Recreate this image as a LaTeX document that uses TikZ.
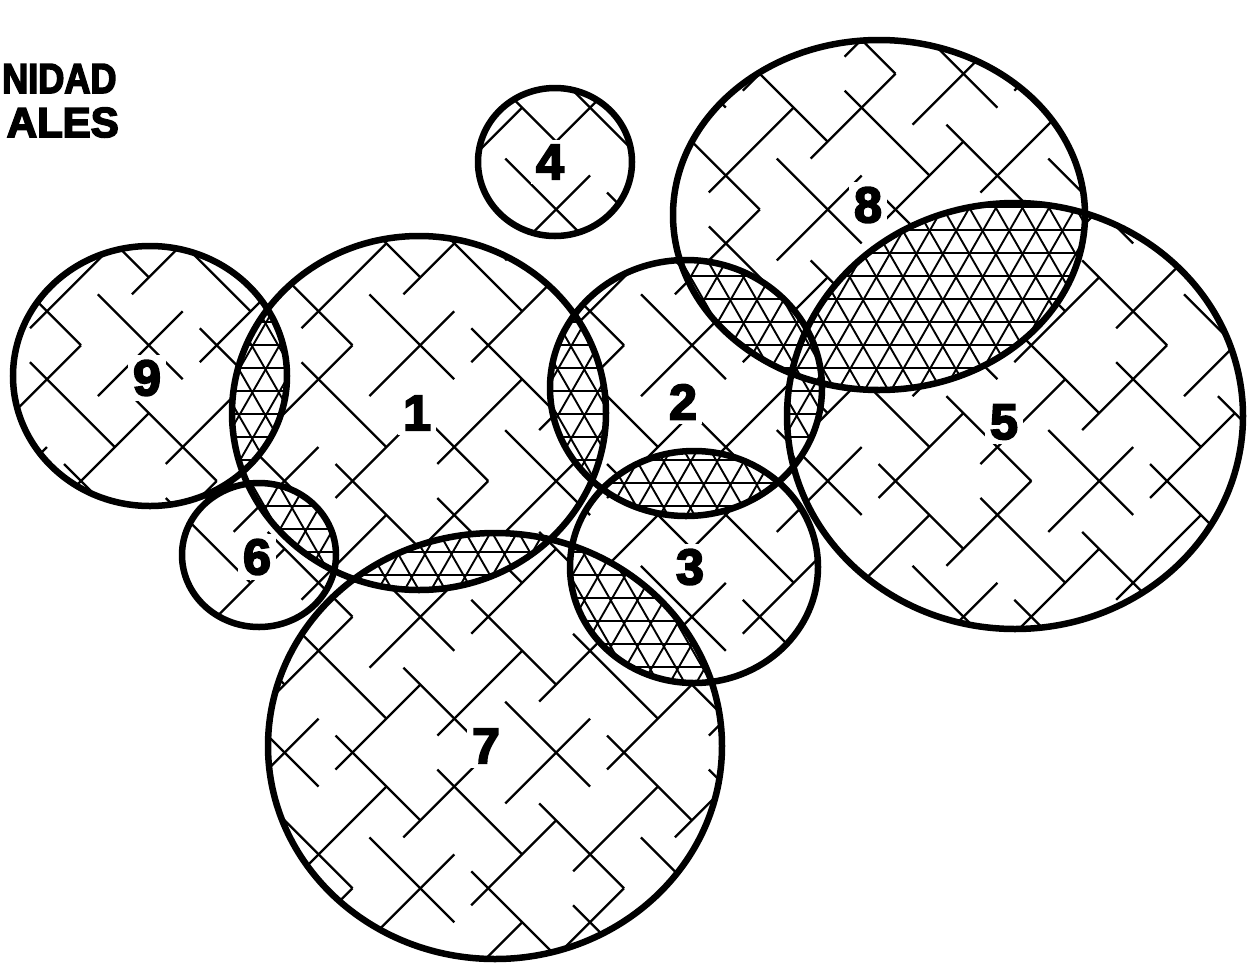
\documentclass[tikz,border=0pt]{standalone}
\usepackage{fontspec}
\setmainfont{Liberation Sans}
\newfontfamily\heavyfont[FakeBold=4]{Liberation Sans Bold}
\tikzset{
  c1/.style={insert path={(419,413) ellipse [x radius=187, y radius=177]}},
  c2/.style={insert path={(686,388) ellipse [x radius=136, y radius=128]}},
  c3/.style={insert path={(694,567) ellipse [x radius=124, y radius=116]}},
  c4/.style={insert path={(555,162) ellipse [x radius=77, y radius=74]}},
  c5/.style={insert path={(1015,416) ellipse [x radius=228, y radius=213]}},
  c6/.style={insert path={(259,555) ellipse [x radius=77, y radius=72]}},
  c7/.style={insert path={(495,746) ellipse [x radius=227, y radius=213]}},
  c8/.style={insert path={(879,215) ellipse [x radius=206, y radius=175]}},
  c9/.style={insert path={(150,376) ellipse [x radius=137, y radius=130]}},
  ring/.style={line width=6.5pt},
  hatchline/.style={line width=2.3pt, dash pattern=on 120pt off 72pt},
  triline/.style={line width=1.9pt},
  num/.style={font=\fontsize{50}{50}\heavyfont, fill=white, inner sep=5pt},
  ttl/.style={font=\fontsize{42}{42}\heavyfont, inner sep=0pt}
}
\newcommand\trigrid{%
  \fill[white] (0,0) rectangle (1248,962);
  \foreach \j in {0,...,42} {\draw[triline] (0,{\j*23}) -- (1248,{\j*23});}
  \foreach \i in {-22,...,70} {
    \draw[triline] ({\i*26.558},0) -- ({\i*26.558+555.4},966);
    \draw[triline] ({\i*26.558},0) -- ({\i*26.558-555.4},966);
  }%
}
\newcommand\lens[2]{%
  \begin{scope}
    \clip[#1];
    \clip[#2];
    \trigrid
  \end{scope}%
}
\begin{document}
\begin{tikzpicture}[x=1pt,y=-1pt]
\useasboundingbox (0,0) rectangle (1248,962);
\clip (0,0) rectangle (1248,962);
\fill[white] (0,0) rectangle (1248,962);

% hatching inside all circles
\begin{scope}
  \clip[c1,c2,c3,c4,c5,c6,c7,c8,c9];
  \foreach \k in {-17,...,17}{
    \pgfmathsetmacro\v{48*\k}
    \pgfmathsetmacro\ts{-24+96*mod(abs(\k),2)-960}
    \pgfmathsetmacro\te{\ts+1920}
    \draw[hatchline] ({624+(\ts+\v)*0.70711},{481+(\ts-\v)*0.70711}) -- ({624+(\te+\v)*0.70711},{481+(\te-\v)*0.70711});
    \draw[hatchline] ({624+(\v+\ts)*0.70711},{481+(\v-\ts)*0.70711}) -- ({624+(\v+\te)*0.70711},{481+(\v-\te)*0.70711});
  }
\end{scope}

% overlaps
\lens{c9}{c1}
\lens{c1}{c2}
\lens{c2}{c3}
\lens{c3}{c7}
\lens{c1}{c7}
\lens{c1}{c6}
\lens{c2}{c8}
\lens{c8}{c5}
\lens{c2}{c5}

% numbers
\node[num] (n1) at (417,413) {1};
\node[num] (n2) at (683,402) {2};
\node[num] (n3) at (690,567) {3};
\node[num] (n4) at (550,162) {4};
\node[num] (n5) at (1004,422) {5};
\node[num] (n6) at (257,557) {6};
\node[num] (n7) at (486,746) {7};
\node[num] (n8) at (868,205) {8};
\node[num] (n9) at (147,378) {9};

% outlines
\draw[ring, c1, c2, c3, c4, c5, c6, c7, c8, c9];

% title fragment
\node[ttl, anchor=base west, xscale=0.86] (t1) at (2,93) {NIDAD};
\node[ttl, anchor=base east] (t2) at (119,137) {ALES};
\end{tikzpicture}
\end{document}
